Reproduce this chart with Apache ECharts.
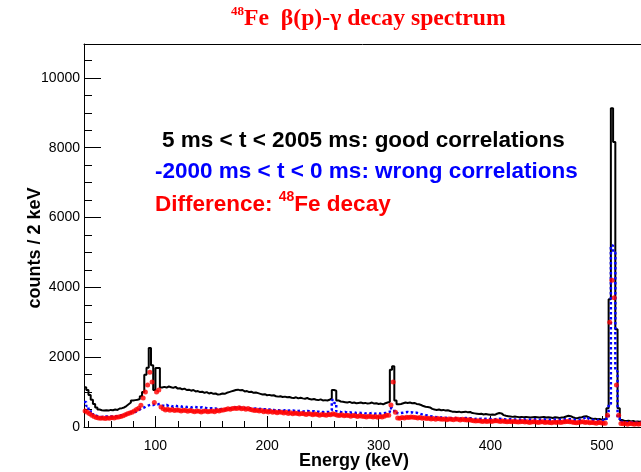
<!DOCTYPE html>
<html><head><meta charset="utf-8">
<script src="https://cdn.jsdelivr.net/npm/echarts@6/dist/echarts.min.js"></script>
<style>html,body{margin:0;padding:0;background:#fff}#c{width:641px;height:472px}</style>
</head><body><div id="c"></div>
<script>
// Histogram binning (keV)
const binStart = 36;
const binWidth = 2;

// 5 ms < t < 2005 ms : good correlations (counts / 2 keV), bins 36..534
const goodCounts = [
  1140,1060,920,780,660,560,500,480,470,480,
  470,490,480,500,490,530,540,560,600,650,
  700,760,770,780,800,880,1000,1500,1700,2260,
  1770,1060,1690,1690,1130,1150,1130,1160,1140,1120,
  1150,1100,1110,1080,1100,1060,1070,1040,1060,1020,
  1030,1000,1010,980,1000,960,980,950,960,930,
  940,960,950,980,1000,1020,1040,1060,1070,1050,
  1060,1020,1030,1000,1010,980,990,970,950,930,
  940,910,920,900,910,880,870,880,860,870,
  850,860,840,830,850,820,840,820,810,830,
  800,790,800,780,770,790,760,770,760,780,
  820,1060,1040,760,730,720,710,700,720,690,
  700,680,690,700,680,690,670,680,700,670,
  680,660,670,650,680,700,720,1640,1740,760,
  650,660,680,700,690,700,680,690,660,650,
  630,600,580,570,560,520,500,490,500,480,
  490,470,480,460,440,440,430,440,420,430,
  440,420,430,400,390,380,370,380,360,370,
  360,350,360,350,380,400,390,340,320,310,
  300,290,300,290,280,290,280,290,280,270,
  280,290,280,270,280,290,270,280,270,260,
  280,270,260,270,280,300,320,310,280,260,
  250,270,280,300,310,280,250,230,240,220,
  230,210,220,220,540,3660,9130,8160,2800,540,
  200,180,170,180,160,170,150,160,150,160
];

// -2000 ms < t < 0 ms : wrong correlations
const wrongCounts = [
  715,600,480,400,340,310,290,290,280,300,
  290,300,290,310,300,330,340,350,370,400,
  420,440,430,460,500,540,560,600,620,640,
  630,660,650,660,620,600,630,600,610,580,
  610,590,600,580,590,570,580,560,580,570,
  560,550,570,550,540,530,540,520,530,500,
  510,520,500,520,530,540,550,560,570,560,
  560,540,550,530,540,520,530,510,520,500,
  510,490,500,480,490,470,480,470,460,480,
  460,470,460,470,450,460,470,450,440,460,
  450,440,450,430,440,420,430,420,430,430,
  480,770,690,450,430,420,430,410,420,410,
  420,400,410,400,410,390,400,390,400,380,
  390,400,380,390,400,410,430,540,500,400,
  390,400,410,420,430,410,420,400,410,390,
  370,350,340,330,310,300,290,280,290,270,
  280,260,270,260,250,260,250,260,240,250,
  260,240,250,240,230,240,230,240,230,235,
  225,230,220,215,230,240,230,220,215,210,
  220,210,215,220,210,215,220,210,220,210,
  215,220,210,205,215,220,210,215,205,210,
  215,210,205,215,220,225,230,225,215,205,
  200,210,220,250,290,240,210,200,205,195,
  200,190,195,190,260,660,5200,5000,1600,250,
  150,130,140,130,135,125,130,125,130,120
];

// Difference: 48Fe decay
const diffCounts = [
  460,420,380,340,300,270,260,250,260,240,
  260,250,270,260,280,290,300,320,350,380,
  400,420,460,500,540,620,830,1000,1200,1570,
  1290,700,1000,1060,570,520,490,510,480,500,
  470,490,480,460,480,470,450,470,460,440,
  460,450,430,450,460,440,450,460,440,470,
  460,480,490,500,520,510,530,540,530,550,
  520,540,510,530,500,490,470,480,460,470,
  440,460,430,450,420,440,410,430,420,400,
  420,390,410,380,400,390,370,390,380,360,
  380,370,350,370,360,340,360,350,340,360,
  350,380,360,340,330,350,320,340,330,310,
  330,320,300,320,310,300,290,310,300,290,
  300,280,300,290,310,340,340,630,1290,420,
  260,250,270,260,280,270,290,280,270,260,
  270,250,260,240,250,230,240,220,240,230,
  220,230,210,230,220,210,230,220,200,220,
  210,200,210,190,180,170,180,170,160,170,
  160,170,160,170,180,170,160,170,160,150,
  160,150,160,150,140,150,160,140,150,130,
  140,150,140,130,140,150,130,140,130,120,
  140,130,140,130,140,150,160,150,140,130,
  120,130,140,150,130,140,120,130,120,110,
  130,120,110,110,340,3000,4200,3700,1200,340,
  100,90,100,80,100,90,80,90,80,90
];

// Axis ranges and ticks
const xRange = [36, 535];
const yRange = [0, 10970];
const xMajorTicks = [100, 200, 300, 400, 500];
const xMinorTicks = [40, 60, 80, 120, 140, 160, 180, 220, 240, 260, 280, 320, 340, 360, 380, 420, 440, 460, 480, 520];
const yMajorTicks = [0, 2000, 4000, 6000, 8000, 10000];
const yMinorTicks = [500, 1000, 1500, 2500, 3000, 3500, 4500, 5000, 5500, 6500, 7000, 7500, 8500, 9000, 9500, 10500];

function histSteps(vals) {
  const out = vals.map((v, i) => [binStart + i * binWidth, v]);
  out.push([binStart + vals.length * binWidth, vals[vals.length - 1]]);
  return out;
}
function binCenters(vals) {
  return vals.map((v, i) => [binStart + i * binWidth + binWidth / 2, v]);
}

const FONT = "'Liberation Sans', Arial, Helvetica, sans-serif";
const SERIF = "'Liberation Serif', 'Times New Roman', serif";
const chart = echarts.init(document.getElementById('c'), null, {renderer: 'canvas'});

const baseX = {type: 'value', min: xRange[0], max: xRange[1], gridIndex: 0, splitLine: {show: false}};
const baseY = {type: 'value', min: yRange[0], max: yRange[1], gridIndex: 0, splitLine: {show: false}};

chart.setOption({
  animation: false,
  backgroundColor: '#fff',
  grid: {left: 84, top: 44, right: 0, bottom: 45, containLabel: false},
  xAxis: [
    Object.assign({}, baseX, {
      position: 'bottom',
      axisLine: {show: true, onZero: false, lineStyle: {color: '#000', width: 1}},
      axisTick: {show: true, inside: true, length: 11, customValues: xMajorTicks, lineStyle: {color: '#000', width: 1}},
      axisLabel: {show: true, customValues: xMajorTicks, margin: 12, color: '#000', fontSize: 14, fontFamily: FONT,
        formatter: v => String(v)}
    }),
    Object.assign({}, baseX, {
      position: 'bottom',
      axisLine: {show: false, onZero: false},
      axisTick: {show: true, inside: true, length: 6, customValues: xMinorTicks, lineStyle: {color: '#000', width: 1}},
      axisLabel: {show: false}
    }),
    Object.assign({}, baseX, {
      position: 'top',
      axisLine: {show: true, onZero: false, lineStyle: {color: '#000', width: 1}},
      axisTick: {show: false},
      axisLabel: {show: false}
    })
  ],
  yAxis: [
    Object.assign({}, baseY, {
      position: 'left',
      axisLine: {show: true, onZero: false, lineStyle: {color: '#000', width: 1}},
      axisTick: {show: true, inside: true, length: 17, customValues: yMajorTicks, lineStyle: {color: '#000', width: 1}},
      axisLabel: {show: true, customValues: yMajorTicks, margin: 4, color: '#000', fontSize: 14, fontFamily: FONT,
        formatter: v => String(v)}
    }),
    Object.assign({}, baseY, {
      position: 'left',
      axisLine: {show: false, onZero: false},
      axisTick: {show: true, inside: true, length: 8, customValues: yMinorTicks, lineStyle: {color: '#000', width: 1}},
      axisLabel: {show: false}
    })
  ],
  series: [
    {
      name: 'good', type: 'line', xAxisIndex: 0, yAxisIndex: 0,
      step: 'end', showSymbol: false, symbol: 'none', clip: true,
      data: histSteps(goodCounts),
      lineStyle: {color: '#000', width: 2}, z: 2
    },
    {
      name: 'wrong', type: 'line', xAxisIndex: 0, yAxisIndex: 0,
      step: 'end', showSymbol: false, symbol: 'none', clip: true,
      data: histSteps(wrongCounts),
      lineStyle: {color: '#0000ff', width: 2.5, type: [2.5, 2.5]}, z: 3
    },
    {
      name: 'diff', type: 'scatter', xAxisIndex: 0, yAxisIndex: 0,
      symbol: 'circle', symbolSize: 5, clip: true,
      data: binCenters(diffCounts),
      itemStyle: {color: '#ff0000'}, z: 4
    }
  ],
  graphic: [
    {
      type: 'text', x: 231, y: 5,
      style: {
        text: '{sup|48}{main|Fe  β(p)-γ decay spectrum}',
        rich: {
          sup: {fontFamily: SERIF, fontWeight: 'bold', fontSize: 13, lineHeight: 13, verticalAlign: 'top', fill: '#ff0000'},
          main: {fontFamily: SERIF, fontWeight: 'bold', fontSize: 23.7, lineHeight: 26, verticalAlign: 'bottom', fill: '#ff0000'}
        }
      }
    },
    {
      type: 'text', x: 162, y: 141,
      style: {text: '5 ms < t < 2005 ms: good correlations', fill: '#000', fontFamily: FONT, fontWeight: 'bold', fontSize: 22.5, verticalAlign: 'middle'}
    },
    {
      type: 'text', x: 155, y: 172,
      style: {text: '-2000 ms < t < 0 ms: wrong correlations', fill: '#0000ff', fontFamily: FONT, fontWeight: 'bold', fontSize: 22.5, verticalAlign: 'middle'}
    },
    {
      type: 'text', x: 155, y: 190,
      style: {
        text: '{m|Difference: }{sup|48}{m|Fe decay}',
        rich: {
          m: {fontFamily: FONT, fontWeight: 'bold', fontSize: 22.5, lineHeight: 26, verticalAlign: 'bottom', fill: '#ff0000'},
          sup: {fontFamily: FONT, fontWeight: 'bold', fontSize: 14, lineHeight: 14, verticalAlign: 'top', fill: '#ff0000'}
        }
      }
    },
    {
      type: 'text', x: 354, y: 461,
      style: {text: 'Energy (keV)', fill: '#000', fontFamily: FONT, fontWeight: 'bold', fontSize: 18, align: 'center', verticalAlign: 'middle'}
    },
    {
      type: 'text', x: 35, y: 248, rotation: Math.PI / 2,
      style: {text: 'counts / 2 keV', fill: '#000', fontFamily: FONT, fontWeight: 'bold', fontSize: 18, align: 'center', verticalAlign: 'middle'}
    }
  ]
});
</script>
</body></html>
